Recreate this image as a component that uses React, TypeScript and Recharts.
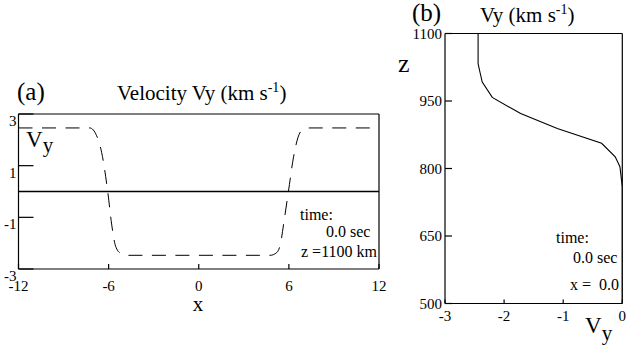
import React from 'react';
import {
  LineChart, Line, XAxis, YAxis, ReferenceLine, ScatterChart, Scatter
} from 'recharts';

const FONT = "Liberation Serif, Tinos, DejaVu Serif, serif";

// panel (a): Vy along x at z = 1100 km
const X_POS = [-12, -7.25, -6.8, -6.46, -6.06, -5.8, -5.57, -5.24, -4.8, 4.75, 5.2, 5.45, 5.65, 5.97, 6.3, 6.6, 6.95, 7.4, 12];
const VY_X = [2.46, 2.46, 2.16, 1.5, 0, -1.26, -2.05, -2.38, -2.47, -2.47, -2.36, -2.0, -1.26, 0, 1.3, 2.08, 2.4, 2.46, 2.46];
const X_TICKS = [-12, -6, 0, 6, 12];
const VY_TICKS = [-3, -1, 1, 3];

// panel (b): Vy profile along z at x = 0
const Z_POS = [1100, 1033, 1015, 992, 958, 922, 889, 856, 826, 804, 759, 500];
const VY_Z = [-2.44, -2.44, -2.41, -2.37, -2.2, -1.72, -1.1, -0.35, -0.12, -0.04, 0, 0];
const Z_TICKS = [500, 650, 800, 950, 1100];
const VYB_TICKS = [-3, -2, -1, 0];

const dataA = X_POS.map((x, i) => ({ x, v: VY_X[i] }));
const dataB = Z_POS.map((z, i) => ({ z, v: VY_Z[i] }));

const LeftTickA = (props: any) => (
  <text x={props.x} y={props.y + 7} textAnchor="end" dominantBaseline="central"
    fontFamily={FONT} fontSize={15} fill="#000">{props.payload.value}</text>
);
const BottomTick = (props: any) => (
  <text x={props.x} y={props.y} textAnchor="middle"
    fontFamily={FONT} fontSize={15} fill="#000">{props.payload.value}</text>
);
const LeftTickB = (props: any) => (
  <text x={props.x} y={props.y} textAnchor="end" dominantBaseline="central"
    fontFamily={FONT} fontSize={15} fill="#000">{props.payload.value}</text>
);

const axisStroke = { stroke: '#000', strokeWidth: 1.2 };

const App: React.FC = () => {
  return (
    <div style={{ position: 'absolute', left: 0, top: 0, width: 636, height: 345, background: '#fff', fontFamily: FONT }}>
      {/* (a) */}
      <div style={{ position: 'absolute', left: 0, top: 0 }}>
        <LineChart width={400} height={300} data={dataA}
          margin={{ top: 104, right: 11, bottom: 21, left: 8.5 }}>
          <XAxis xAxisId="b" dataKey="x" type="number" domain={[-12, 12]} ticks={X_TICKS} interval={0}
            height={10} axisLine={axisStroke} tickLine={axisStroke} tickSize={-5} tickMargin={27}
            tick={<BottomTick />} allowDataOverflow />
          <XAxis xAxisId="t" orientation="top" dataKey="x" type="number" domain={[-12, 12]} ticks={[-6, 0, 6]}
            interval={0} height={10} axisLine={axisStroke} tickLine={axisStroke} tickSize={-4} tick={false}
            allowDataOverflow />
          <YAxis yAxisId="l" type="number" domain={[-3, 3]} ticks={VY_TICKS} interval={0} width={10}
            axisLine={axisStroke} tickLine={axisStroke} tickSize={-15} tickMargin={17}
            tick={<LeftTickA />} allowDataOverflow />
          <YAxis yAxisId="r" orientation="right" type="number" domain={[-3, 3]} ticks={[-1, 1]} interval={0}
            width={10} axisLine={axisStroke} tickLine={axisStroke} tickSize={-15} tick={false} allowDataOverflow />
          <ReferenceLine xAxisId="b" yAxisId="l" y={0} stroke="#000" strokeWidth={1.3} />
          <Line xAxisId="b" yAxisId="l" dataKey="v" type="monotone" stroke="#000" strokeWidth={1}
            strokeDasharray="14 9.5" dot={false} isAnimationActive={false} />
        </LineChart>
      </div>

      {/* (b) */}
      <div style={{ position: 'absolute', left: 380, top: 0 }}>
        <ScatterChart width={256} height={345} margin={{ top: 23.5, right: 3.7, bottom: 31.5, left: 55 }}>
          <XAxis xAxisId="b" dataKey="v" type="number" domain={[-3, 0]} ticks={VYB_TICKS} interval={0}
            height={10} axisLine={axisStroke} tickLine={axisStroke} tickSize={-4} tickMargin={21.5}
            tick={<BottomTick />} allowDataOverflow />
          <XAxis xAxisId="t" orientation="top" dataKey="v" type="number" domain={[-3, 0]} ticks={[-2, -1]}
            interval={0} height={10} axisLine={axisStroke} tickLine={axisStroke} tickSize={-4} tick={false}
            allowDataOverflow />
          <YAxis yAxisId="l" dataKey="z" type="number" domain={[500, 1100]} ticks={Z_TICKS} interval={0}
            width={10} axisLine={axisStroke} tickLine={axisStroke} tickSize={-7} tickMargin={10}
            tick={<LeftTickB />} allowDataOverflow />
          <YAxis yAxisId="r" orientation="right" dataKey="z" type="number" domain={[500, 1100]}
            ticks={[650, 800, 950]} interval={0} width={10} axisLine={axisStroke} tickLine={axisStroke}
            tickSize={-7} tick={false} allowDataOverflow />
          <Scatter xAxisId="b" yAxisId="l" data={dataB} line={{ stroke: '#000', strokeWidth: 1.1 }}
            lineType="joint" shape={() => null} isAnimationActive={false} />
        </ScatterChart>
      </div>

      {/* text overlay */}
      <svg width={636} height={345} style={{ position: 'absolute', left: 0, top: 0, pointerEvents: 'none' }}
        fontFamily={FONT} fill="#000">
        <text x={17} y={100} fontSize={25}>(a)</text>
        <text x={117} y={100} fontSize={21}>
          Velocity Vy (km s<tspan fontSize={14} dy={-8}>-1</tspan><tspan dy={8}>)</tspan>
        </text>
        <text x={26} y={147} fontSize={23}>V<tspan fontSize={21} dy={5}>y</tspan></text>
        <text x={198} y={311} fontSize={21} textAnchor="middle">x</text>
        <text x={300} y={220} fontSize={16}>time:</text>
        <text x={326} y={237} fontSize={16}>0.0 sec</text>
        <text x={301} y={257} fontSize={16}>z =1100 km</text>

        <text x={412} y={21} fontSize={25}>(b)</text>
        <text x={480} y={22} fontSize={21}>
          Vy (km s<tspan fontSize={14} dy={-8}>-1</tspan><tspan dy={8}>)</tspan>
        </text>
        <text x={398} y={72} fontSize={26}>z</text>
        <text x={585} y={333} fontSize={23}>V<tspan fontSize={21} dy={7}>y</tspan></text>
        <text x={556} y={243} fontSize={16}>time:</text>
        <text x={573} y={263} fontSize={16}>0.0 sec</text>
        <text x={570} y={290} fontSize={16} style={{ whiteSpace: 'pre' }}>x =  0.0</text>
      </svg>
    </div>
  );
};

export default App;
